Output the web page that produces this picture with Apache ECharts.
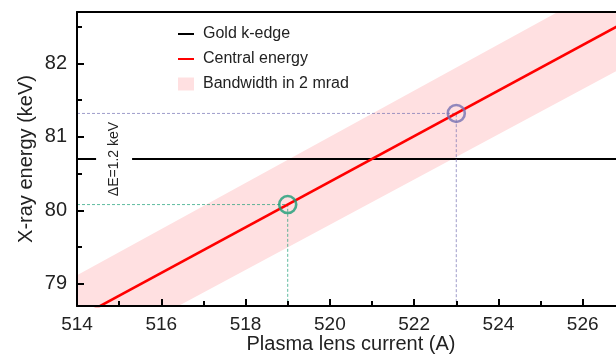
<!DOCTYPE html>
<html>
<head>
<meta charset="utf-8">
<title>X-ray energy vs plasma lens current</title>
<script src="https://cdn.jsdelivr.net/npm/echarts@6/dist/echarts.min.js"></script>
<style>
  html, body { margin: 0; padding: 0; background: #fff; }
  #chart { width: 616px; height: 356px; }
</style>
</head>
<body>
<div id="chart"></div>
<script>
// Plasma lens current (A) at the ends of the plotted lines
const currentA = [514, 527];
// Central X-ray energy (keV) at those currents
const centralKeV = [78.53, 82.56];
// Energy band within 2 mrad (keV): lower and upper edges
const bandLowKeV = [77.96, 81.96];
const bandHighKeV = [79.12, 83.2];
// Gold K-edge energy (keV)
const goldKEdgeKeV = 80.7;
// Selected operating points
const markerCurrentA = [519, 523];
const markerKeV = [80.08, 81.32];
// Axis ticks
const xMajorTicks = [514, 516, 518, 520, 522, 524, 526];
const xMinorTicks = [515, 517, 519, 521, 523, 525];
const yMajorTicks = [79, 80, 81, 82];
const yMinorTicks = [79.5, 80.5, 81.5, 82.5];
const xRange = [514, 526.79];
const yRange = [78.7, 82.7];
const deltaLabel = 'ΔE=1.2 keV';

const markerPalette = ['#1b9e77', '#7570b3'];
const BAND_PINK = 'rgb(255,224,225)';
const FONT = '"Liberation Sans", Arial, Helvetica, sans-serif';

const chart = echarts.init(document.getElementById('chart'), null, { renderer: 'canvas' });

const pairs = (xs, ys) => xs.map((x, i) => [x, ys[i]]);

function axisBase(extra) {
  return Object.assign({
    type: 'value',
    gridIndex: 0,
    splitLine: { show: false },
    axisLine: { show: false, onZero: false },
    axisTick: { show: false },
    axisLabel: { show: false }
  }, extra);
}

const xAxes = [
  axisBase({
    position: 'bottom', min: xRange[0], max: xRange[1],
    axisLine: { show: true, onZero: false, lineStyle: { color: '#000', width: 2 } },
    axisTick: { show: true, inside: true, length: 7, lineStyle: { color: '#000', width: 2 }, customValues: xMajorTicks },
    axisLabel: { show: true, margin: 9, fontFamily: FONT, fontSize: 19, color: '#222', customValues: xMajorTicks },
    name: 'Plasma lens current (A)',
    nameLocation: 'middle', nameGap: 28, nameMoveOverlap: false,
    nameTextStyle: { fontFamily: FONT, fontSize: 20, color: '#222', padding: [0, 0, 0, 9] },
    z: 10
  }),
  axisBase({
    position: 'bottom', min: xRange[0], max: xRange[1],
    axisTick: { show: true, inside: true, length: 5, lineStyle: { color: '#000', width: 2 }, customValues: xMinorTicks },
    z: 10
  }),
  axisBase({
    position: 'top', min: xRange[0], max: xRange[1],
    axisLine: { show: true, onZero: false, lineStyle: { color: '#000', width: 2 } },
    z: 10
  })
];

const yAxes = [
  axisBase({
    position: 'left', min: yRange[0], max: yRange[1],
    axisLine: { show: true, onZero: false, lineStyle: { color: '#000', width: 2 } },
    axisTick: { show: true, inside: true, length: 7, lineStyle: { color: '#000', width: 2 }, customValues: yMajorTicks },
    axisLabel: { show: true, margin: 10, fontFamily: FONT, fontSize: 20, color: '#222', customValues: yMajorTicks },
    name: 'X-ray energy (keV)',
    nameLocation: 'middle', nameGap: 41, nameMoveOverlap: false,
    nameTextStyle: { fontFamily: FONT, fontSize: 20, color: '#222' },
    z: 10
  }),
  axisBase({
    position: 'left', min: yRange[0], max: yRange[1],
    axisTick: { show: true, inside: true, length: 5, lineStyle: { color: '#000', width: 2 }, customValues: yMinorTicks },
    z: 10
  })
];

// Guide lines from each operating point to both axes
const guideSeries = markerCurrentA.map((x, i) => ({
  type: 'line',
  silent: true,
  symbol: 'none',
  data: [[xRange[0], markerKeV[i]], [x, markerKeV[i]], [x, yRange[0]]],
  lineStyle: { color: markerPalette[i], width: 1, type: [3, 2], opacity: 0.7 },
  z: 4
}));

const legendCommon = {
  left: 173,
  orient: 'vertical',
  itemWidth: 16,
  selectedMode: false,
  textStyle: { fontFamily: FONT, fontSize: 16, color: '#222', padding: [0, 0, 0, 4] }
};

const option = {
  animation: false,
  backgroundColor: '#fff',
  grid: { left: 77, top: 12, right: 0, bottom: 50, containLabel: false, outerBoundsMode: 'none' },
  xAxis: xAxes,
  yAxis: yAxes,
  legend: [
    Object.assign({}, legendCommon, { top: 21, itemHeight: 2, icon: 'rect', data: [{ name: 'Gold k-edge', itemStyle: { color: '#000' } }] }),
    Object.assign({}, legendCommon, { top: 46, itemHeight: 2, icon: 'rect', data: [{ name: 'Central energy', itemStyle: { color: '#ff0000' } }] }),
    Object.assign({}, legendCommon, { top: 71, itemHeight: 13, icon: 'rect', data: [{ name: 'Bandwidth in 2 mrad', itemStyle: { color: BAND_PINK } }] })
  ],
  series: [
    // Band: fill from the upper edge down, then cover below the lower edge
    {
      name: 'Bandwidth in 2 mrad',
      type: 'line',
      silent: true,
      symbol: 'none',
      data: pairs(currentA, bandHighKeV),
      itemStyle: { color: BAND_PINK },
      lineStyle: { width: 0, opacity: 0 },
      areaStyle: { color: BAND_PINK, opacity: 1, origin: 'start' },
      z: 1
    },
    {
      name: 'band-lower',
      type: 'line',
      silent: true,
      symbol: 'none',
      data: pairs(currentA, bandLowKeV),
      lineStyle: { width: 0, opacity: 0 },
      areaStyle: { color: '#fff', opacity: 1, origin: 'start' },
      z: 2
    },
    {
      name: 'Gold k-edge',
      type: 'line',
      silent: true,
      symbol: 'none',
      data: pairs(currentA, [goldKEdgeKeV, goldKEdgeKeV]),
      itemStyle: { color: '#000' },
      lineStyle: { color: '#000', width: 2.2 },
      z: 3
    },
    ...guideSeries,
    {
      name: 'Central energy',
      type: 'line',
      silent: true,
      symbol: 'none',
      data: pairs(currentA, centralKeV),
      itemStyle: { color: '#ff0000' },
      lineStyle: { color: '#ff0000', width: 2.6 },
      z: 5
    },
    {
      name: 'operating points',
      type: 'scatter',
      silent: true,
      symbol: 'circle',
      symbolSize: 17,
      data: markerCurrentA.map((x, i) => ({
        value: [x, markerKeV[i]],
        itemStyle: { color: 'rgba(0,0,0,0)', borderColor: markerPalette[i], borderWidth: 2.6 }
      })),
      z: 6
    }
  ]
};

chart.setOption(option);

// Energy spread annotation, centred between the two operating energies
const labelPos = chart.convertToPixel({ xAxisIndex: 0, yAxisIndex: 0 },
  [514.88, (markerKeV[0] + markerKeV[1]) / 2]);
chart.setOption({
  graphic: [{
    type: 'text',
    x: labelPos[0],
    y: labelPos[1],
    rotation: Math.PI / 2,
    z: 4,
    style: {
      text: deltaLabel,
      font: '14px ' + FONT,
      fill: '#222',
      align: 'center',
      verticalAlign: 'middle',
      backgroundColor: '#fff',
      padding: [11, 0]
    }
  }]
});
</script>
</body>
</html>
